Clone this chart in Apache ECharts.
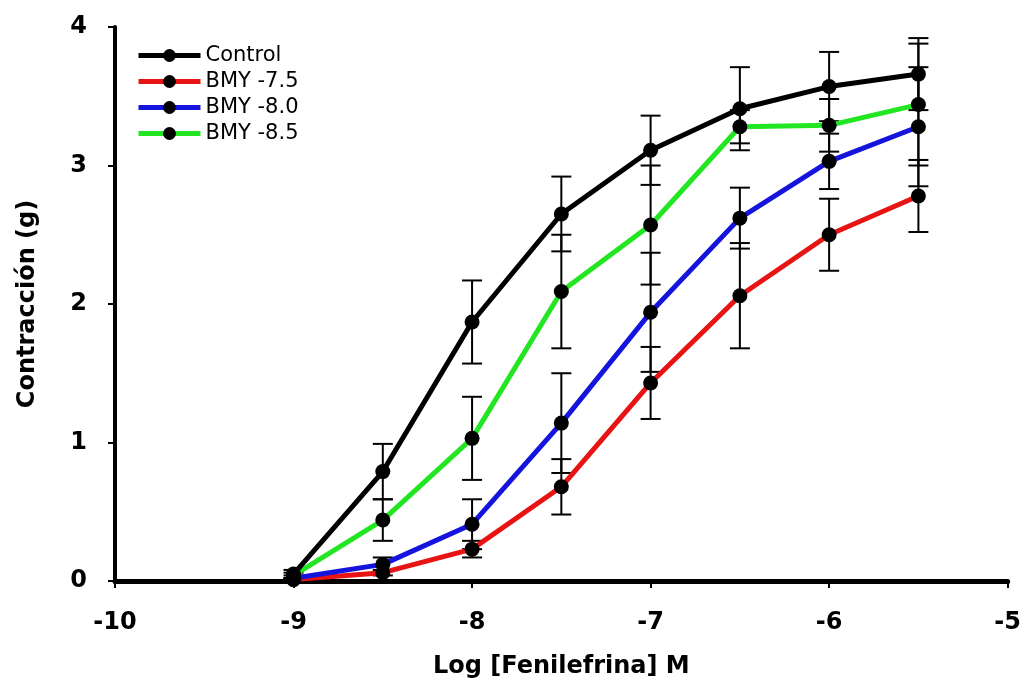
<!DOCTYPE html>
<html>
<head>
<meta charset="utf-8">
<script src="https://cdn.jsdelivr.net/npm/echarts@6/dist/echarts.min.js"></script>
<style>
html,body{margin:0;padding:0;background:#fff;}
#chart{width:1024px;height:698px;}
</style>
</head>
<body>
<div id="chart"></div>
<script>
var logConc = [-9, -8.5, -8, -7.5, -7, -6.5, -6, -5.5];
var seriesNames = ['Control', 'BMY -7.5', 'BMY -8.0', 'BMY -8.5'];
var control = [0.05, 0.79, 1.87, 2.65, 3.11, 3.41, 3.57, 3.66];
var controlErr = [0.03, 0.20, 0.30, 0.27, 0.25, 0.30, 0.25, 0.26];
var bmy75 = [0.01, 0.06, 0.23, 0.68, 1.43, 2.06, 2.50, 2.78];
var bmy75Err = [0.01, 0.02, 0.06, 0.20, 0.26, 0.38, 0.26, 0.26];
var bmy80 = [0.02, 0.12, 0.41, 1.14, 1.94, 2.62, 3.03, 3.28];
var bmy80Err = [0.02, 0.05, 0.18, 0.36, 0.43, 0.22, 0.20, 0.43];
var bmy85 = [0.04, 0.44, 1.03, 2.09, 2.57, 3.28, 3.29, 3.44];
var bmy85Err = [0.02, 0.15, 0.30, 0.41, 0.43, 0.12, 0.19, 0.44];
var xTicks = [-10, -9, -8, -7, -6, -5];
var yTicks = [0, 1, 2, 3, 4];

var colors = ['#000000', '#e81414', '#1414dc', '#22e622'];
var means = [control, bmy75, bmy80, bmy85];
var errs = [controlErr, bmy75Err, bmy80Err, bmy85Err];

function pairs(vals) {
  return logConc.map(function (x, i) { return [x, vals[i]]; });
}
function errData(vals, e) {
  return logConc.map(function (x, i) { return [x, vals[i] - e[i], vals[i] + e[i]]; });
}
function renderErr(params, api) {
  var x = api.value(0);
  var lo = api.coord([x, api.value(1)]);
  var hi = api.coord([x, api.value(2)]);
  var w = 10;
  var st = { stroke: '#000', lineWidth: 2 };
  return {
    type: 'group',
    children: [
      { type: 'line', shape: { x1: lo[0], y1: lo[1], x2: hi[0], y2: hi[1] }, style: st },
      { type: 'line', shape: { x1: lo[0] - w, y1: lo[1], x2: lo[0] + w, y2: lo[1] }, style: st },
      { type: 'line', shape: { x1: hi[0] - w, y1: hi[1], x2: hi[0] + w, y2: hi[1] }, style: st }
    ]
  };
}

var series = [];
for (var k = 0; k < 4; k++) {
  series.push({
    type: 'custom',
    name: seriesNames[k] + ' err',
    renderItem: renderErr,
    data: errData(means[k], errs[k]),
    z: 3,
    silent: true
  });
}
var lineOrder = [1, 2, 3, 0];
lineOrder.forEach(function (k) {
  series.push({
    type: 'line',
    name: seriesNames[k],
    data: pairs(means[k]),
    smooth: false,
    symbol: 'circle',
    symbolSize: 15,
    lineStyle: { color: colors[k], width: 5 },
    itemStyle: { color: '#000' },
    z: 4
  });
});

var chart = echarts.init(document.getElementById('chart'));
chart.setOption({
  animation: false,
  backgroundColor: '#ffffff',
  grid: { left: 115, right: 16, top: 27, bottom: 117 },
  legend: {
    data: seriesNames,
    orient: 'vertical',
    left: 131,
    top: 40,
    itemWidth: 62,
    itemHeight: 16,
    itemGap: 5,
    lineStyle: { width: 5 },
    textStyle: { fontFamily: 'DejaVu Sans', fontSize: 21, color: '#000' }
  },
  xAxis: {
    type: 'value',
    min: -10, max: -5, interval: 1,
    name: 'Log [Fenilefrina] M',
    nameLocation: 'middle',
    nameGap: 74,
    nameTextStyle: { fontFamily: 'DejaVu Sans', fontWeight: 'bold', fontSize: 24, color: '#000' },
    axisLine: { onZero: false, lineStyle: { color: '#000', width: 5 } },
    axisTick: { show: true, inside: false, length: 7, lineStyle: { color: '#000', width: 2 } },
    axisLabel: {
      margin: 30, color: '#000', fontFamily: 'DejaVu Sans', fontWeight: 'bold', fontSize: 24,
      formatter: function (v) { return xTicks.indexOf(v) >= 0 ? String(v) : ''; }
    },
    splitLine: { show: false }
  },
  yAxis: {
    type: 'value',
    min: 0, max: 4, interval: 1,
    name: 'Contracción (g)',
    nameLocation: 'middle',
    nameGap: 75,
    nameTextStyle: { fontFamily: 'DejaVu Sans', fontWeight: 'bold', fontSize: 24, color: '#000' },
    axisLine: { show: true, lineStyle: { color: '#000', width: 4 } },
    axisTick: { show: true, inside: false, length: 7, lineStyle: { color: '#000', width: 2 } },
    axisLabel: {
      margin: 28, color: '#000', fontFamily: 'DejaVu Sans', fontWeight: 'bold', fontSize: 24,
      formatter: function (v) { return yTicks.indexOf(v) >= 0 ? String(v) : ''; }
    },
    splitLine: { show: false }
  },
  series: series
});
</script>
</body>
</html>
